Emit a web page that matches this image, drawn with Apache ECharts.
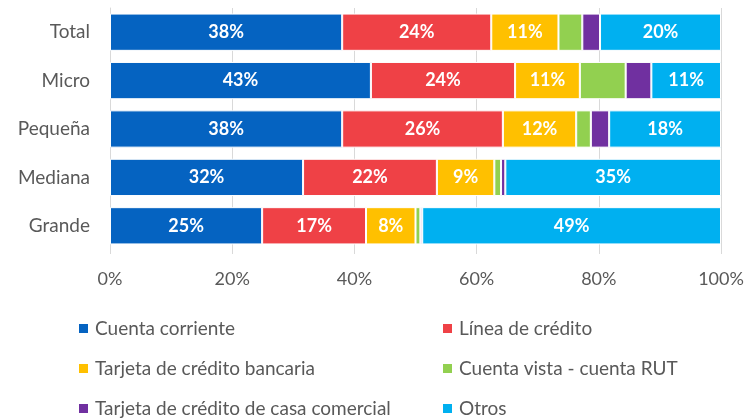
<!DOCTYPE html>
<html>
<head>
<meta charset="utf-8">
<script src="https://cdn.jsdelivr.net/npm/echarts@6/dist/echarts.min.js"></script>
<style>
html,body{margin:0;padding:0;background:#fff;}
#chart{width:756px;height:419px;}
</style>
</head>
<body>
<div id="chart"></div>
<script>
const categories = ['Total', 'Micro', 'Pequeña', 'Mediana', 'Grande'];
const cuentaCorriente = [38.0, 42.7, 38.0, 31.6, 24.9];
const lineaCredito = [24.4, 23.6, 26.3, 21.9, 17.0];
const tarjetaBancaria = [11.0, 10.6, 12.0, 9.4, 8.1];
const cuentaVista = [3.9, 7.5, 2.4, 1.1, 0.8];
const tarjetaCasaComercial = [2.9, 4.2, 3.0, 0.7, 0.3];
const otros = [19.8, 11.4, 18.3, 35.3, 48.9];
const xTicks = [0, 20, 40, 60, 80, 100];

const seriesNames = ['Cuenta corriente', 'Línea de crédito', 'Tarjeta de crédito bancaria',
  'Cuenta vista - cuenta RUT', 'Tarjeta de crédito de casa comercial', 'Otros'];
const seriesData = [cuentaCorriente, lineaCredito, tarjetaBancaria, cuentaVista, tarjetaCasaComercial, otros];
const colors = ['#0563C1', '#EF4146', '#FFC000', '#92D050', '#7030A0', '#00B0F0'];
const showLabel = [true, true, true, false, false, true];

const FONT = 'Lato';
const TXT = '#595959';

// legend layout: 2 columns x 3 rows
const legendCols = [77, 441];
const legendRows = [319, 359, 399];
const legends = seriesNames.map((name, i) => ({
  orient: 'horizontal',
  left: legendCols[i % 2],
  top: legendRows[Math.floor(i / 2)],
  padding: 0,
  icon: 'rect', itemWidth: 11, itemHeight: 11,
  textStyle: {fontFamily: FONT, fontSize: 19, color: TXT, lineHeight: 19, padding: [0, 0, 0, 1]},
  data: [name]
}));

const chart = echarts.init(document.getElementById('chart'), null, {renderer: 'canvas'});
chart.setOption({
  animation: false,
  color: colors,
  grid: {left: 110, right: 35, top: 8, height: 242, containLabel: false},
  legend: legends,
  xAxis: {
    type: 'value', min: xTicks[0], max: xTicks[xTicks.length - 1], interval: 20,
    axisLine: {show: false},
    axisTick: {show: true, length: 4, lineStyle: {color: '#D9D9D9'}},
    splitLine: {show: true, lineStyle: {color: '#D9D9D9', width: 1}},
    axisLabel: {formatter: v => v + '%', fontFamily: FONT, fontSize: 18, color: TXT, margin: 20}
  },
  yAxis: {
    type: 'category', data: categories, inverse: true,
    axisLine: {show: true, lineStyle: {color: '#D9D9D9', width: 1}},
    axisTick: {show: false},
    axisLabel: {fontFamily: FONT, fontSize: 19, color: TXT, margin: 20}
  },
  series: seriesNames.map((name, i) => ({
    name: name,
    type: 'bar',
    stack: 'total',
    barWidth: '77%',
    data: seriesData[i],
    itemStyle: {color: colors[i], borderColor: '#fff', borderWidth: 1},
    label: {
      show: showLabel[i], position: 'inside', color: '#fff',
      fontFamily: FONT, fontWeight: 'bold', fontSize: 18,
      formatter: p => Math.round(p.value) + '%'
    }
  }))
});
</script>
</body>
</html>
